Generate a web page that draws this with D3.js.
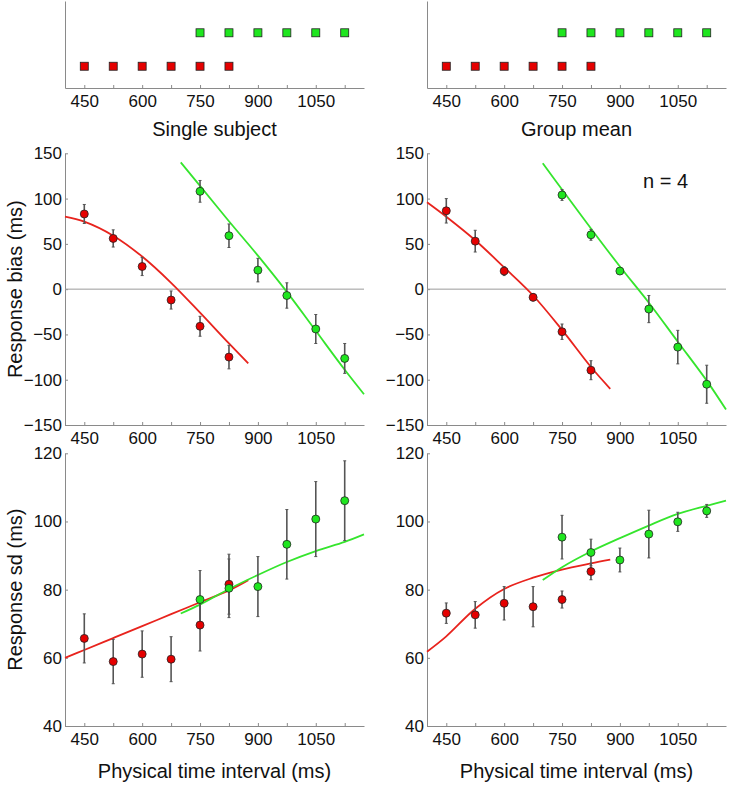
<!DOCTYPE html>
<html><head><meta charset="utf-8">
<script src="https://cdn.jsdelivr.net/npm/d3@7"></script>
<style>
body{margin:0;background:#fff;}
svg{display:block;font-family:"Liberation Sans",Arial,Helvetica,sans-serif;}
.axis path,.axis line{stroke:#8a8a8a;stroke-width:1;}
.axis text{fill:#111;font-size:17px;font-family:"Liberation Sans",Arial,sans-serif;}
</style></head>
<body>
<script>
// ---------- data ----------
const stimRed   = [450, 525, 600, 675, 750, 825];
const stimGreen = [750, 825, 900, 975, 1050, 1125];
const xTicks = [450, 525, 600, 675, 750, 825, 900, 975, 1050, 1125];
const xTickLabels = [450, 600, 750, 900, 1050];
const biasTicks = [-150, -100, -50, 0, 50, 100, 150];
const sdTicks = [40, 60, 80, 100, 120];

// Response bias, single subject
const biasSingleRed = [83, 56, 25, -12, -41, -75];
const biasSingleRedErr = [10.5, 9.5, 10, 10, 11, 13];
const biasSingleGreen = [108, 59, 21, -7, -44, -76.5];
const biasSingleGreenErr = [12, 13, 13, 14, 16, 16.5];
// Response bias, group mean
const biasGroupRed = [86.5, 53, 20, -9, -47, -89.5];
const biasGroupRedErr = [13.5, 12, 5, 4, 8.5, 10.5];
const biasGroupGreen = [104, 60, 20, -22, -64, -105];
const biasGroupGreenErr = [6, 6, 3, 15, 18.5, 21];
// Response sd, single subject
const sdSingleRed = [65.7, 58.9, 61.1, 59.6, 69.6, 81.6];
const sdSingleRedErr = [7.2, 6.5, 6.8, 6.6, 7.6, 8.8];
const sdSingleGreen = [77.1, 80.4, 80.9, 93.3, 100.7, 106.1];
const sdSingleGreenErr = [8.5, 8.6, 8.8, 10.2, 11, 11.7];
// Response sd, group mean
const sdGroupRed = [73.1, 72.6, 76.0, 75.0, 77.1, 85.3];
const sdGroupRedErr = [3, 3.9, 4.9, 5.9, 2.5, 2.4];
const sdGroupGreen = [95.4, 90.9, 88.7, 96.3, 99.9, 103.1];
const sdGroupGreenErr = [6.4, 3.9, 3.5, 7, 2.8, 1.9];

// Model fit curves
const fitRedX   = [400, 450, 525, 600, 675, 750, 825, 875];
const fitGreenX = [700, 750, 825, 900, 975, 1050, 1125, 1175];
const fitBiasSingleRed   = [80, 74.5, 59, 36, 7, -26, -60, -82];
const fitBiasSingleGreen = [140, 114, 75, 37, -3, -46, -89, -116];
const fitBiasGroupRed    = [96, 80, 54, 24, -7, -45, -86, -110];
const fitBiasGroupGreen  = [139, 110, 67, 25, -15, -58, -101, -133];
const fitSdSingleRed     = [60, 62.3, 65.8, 69.3, 72.8, 76.3, 79.8, 82.8];
const fitSdSingleGreen   = [73, 75.6, 80.2, 84.3, 88.1, 91.3, 94.0, 96.2];
const fitSdGroupRed      = [61.8, 66.3, 74.4, 80.2, 83.5, 85.9, 87.7, 88.8];
const fitSdGroupGreen    = [82.8, 86.6, 91.2, 95.1, 98.8, 102.2, 104.6, 106.1];

const titles = ["Single subject", "Group mean"];

// ---------- drawing ----------
const W = 729, H = 785;
const RED_LINE = "#e8231d", GREEN_LINE = "#35e52d";
const RED_DOT = "#e50000", GREEN_DOT = "#1fe61f";
const svg = d3.select("body").append("svg").attr("width", W).attr("height", H);

const cols = [{x0: 65, x1: 364}, {x0: 427, x1: 726}];
const rows = {
  top: [88, 1],
  bias: [425, 153.3],
  sd: [726, 453.3]
};
const fmt = v => v < 0 ? "\u2212" + Math.abs(v) : String(v);

cols.forEach((c, ci) => {
  const x = d3.scaleLinear().domain([400, 1175]).range([c.x0, c.x1]);
  const xAxis = g => g.call(d3.axisBottom(x).tickValues(xTicks)
      .tickFormat(v => xTickLabels.includes(v) ? v : "")
      .tickSizeInner(-3).tickSizeOuter(0).tickPadding(7));

  // ---- top stimulus panel ----
  const yT = d3.scaleLinear().domain([0.35, 2.95]).range(rows.top);
  const gT = svg.append("g");
  gT.append("g").attr("class", "axis").attr("transform", `translate(0,${rows.top[0]})`).call(xAxis);
  gT.append("g").attr("class", "axis").attr("transform", `translate(${c.x0},0)`)
    .call(d3.axisLeft(yT).tickValues([]).tickSizeOuter(0));
  const sq = 8;
  gT.selectAll("rect.r").data(stimRed).join("rect")
    .attr("x", d => x(d) - sq/2).attr("y", yT(1) - sq/2).attr("width", sq).attr("height", sq)
    .attr("fill", RED_DOT).attr("stroke", "#222").attr("stroke-width", 0.8);
  gT.selectAll("rect.g").data(stimGreen).join("rect")
    .attr("x", d => x(d) - sq/2).attr("y", yT(2) - sq/2).attr("width", sq).attr("height", sq)
    .attr("fill", GREEN_DOT).attr("stroke", "#222").attr("stroke-width", 0.8);
  svg.append("text").attr("x", (c.x0 + c.x1) / 2).attr("y", 136).attr("text-anchor", "middle")
    .attr("font-size", 20).attr("fill", "#111").text(titles[ci]);

  // ---- generic data panel ----
  function panel(range, domain, ticks, red, redErr, green, greenErr, fitR, fitG, zero) {
    const y = d3.scaleLinear().domain(domain).range(range);
    const g = svg.append("g");
    g.append("g").attr("class", "axis").attr("transform", `translate(0,${range[0]})`).call(xAxis);
    g.append("g").attr("class", "axis").attr("transform", `translate(${c.x0},0)`)
      .call(d3.axisLeft(y).tickValues(ticks).tickFormat(fmt).tickSizeInner(-3).tickSizeOuter(0).tickPadding(3));
    if (zero) {
      g.append("line").attr("x1", c.x0).attr("x2", c.x1).attr("y1", y(0)).attr("y2", y(0))
        .attr("stroke", "#9a9a9a").attr("stroke-width", 1);
    }
    const line = d3.line().x(d => x(d[0])).y(d => y(d[1])).curve(d3.curveCatmullRom.alpha(0.5));
    g.append("path").attr("d", line(d3.zip(fitRedX, fitR))).attr("fill", "none")
      .attr("stroke", RED_LINE).attr("stroke-width", 1.8);
    g.append("path").attr("d", line(d3.zip(fitGreenX, fitG))).attr("fill", "none")
      .attr("stroke", GREEN_LINE).attr("stroke-width", 1.8);
    const series = [[stimRed, red, redErr, RED_DOT], [stimGreen, green, greenErr, GREEN_DOT]];
    series.forEach(([xs, ys, es]) => {
      const pts = d3.zip(xs, ys, es);
      const eb = g.append("g").attr("stroke", "#555").attr("stroke-width", 1.6);
      pts.forEach(([xv, yv, ev]) => {
        eb.append("line").attr("x1", x(xv)).attr("x2", x(xv)).attr("y1", y(yv - ev)).attr("y2", y(yv + ev));
        eb.append("line").attr("x1", x(xv) - 1.5).attr("x2", x(xv) + 1.5).attr("y1", y(yv - ev)).attr("y2", y(yv - ev)).attr("stroke-width", 1);
        eb.append("line").attr("x1", x(xv) - 1.5).attr("x2", x(xv) + 1.5).attr("y1", y(yv + ev)).attr("y2", y(yv + ev)).attr("stroke-width", 1);
      });
    });
    series.forEach(([xs, ys, es, col]) => {
      g.append("g").selectAll("circle").data(d3.zip(xs, ys)).join("circle")
        .attr("cx", d => x(d[0])).attr("cy", d => y(d[1])).attr("r", 4)
        .attr("fill", col).attr("stroke", "#222").attr("stroke-width", 0.8);
    });
    return y;
  }

  if (ci === 0) {
    panel(rows.bias, [-150, 150], biasTicks, biasSingleRed, biasSingleRedErr, biasSingleGreen, biasSingleGreenErr,
          fitBiasSingleRed, fitBiasSingleGreen, true);
    panel(rows.sd, [40, 120], sdTicks, sdSingleRed, sdSingleRedErr, sdSingleGreen, sdSingleGreenErr,
          fitSdSingleRed, fitSdSingleGreen, false);
  } else {
    panel(rows.bias, [-150, 150], biasTicks, biasGroupRed, biasGroupRedErr, biasGroupGreen, biasGroupGreenErr,
          fitBiasGroupRed, fitBiasGroupGreen, true);
    panel(rows.sd, [40, 120], sdTicks, sdGroupRed, sdGroupRedErr, sdGroupGreen, sdGroupGreenErr,
          fitSdGroupRed, fitSdGroupGreen, false);
    svg.append("text").attr("x", 643).attr("y", 188).attr("font-size", 20).attr("fill", "#111").text("n = 4");
  }
  svg.append("text").attr("x", (c.x0 + c.x1) / 2).attr("y", 778).attr("text-anchor", "middle")
    .attr("font-size", 20).attr("fill", "#111").text("Physical time interval (ms)");
});

// y-axis titles
svg.append("text").attr("transform", `translate(22,${(rows.bias[0] + rows.bias[1]) / 2}) rotate(-90)`)
  .attr("text-anchor", "middle").attr("font-size", 20).attr("fill", "#111").text("Response bias (ms)");
svg.append("text").attr("transform", `translate(22,${(rows.sd[0] + rows.sd[1]) / 2}) rotate(-90)`)
  .attr("text-anchor", "middle").attr("font-size", 20).attr("fill", "#111").text("Response sd (ms)");
</script>
</body></html>
